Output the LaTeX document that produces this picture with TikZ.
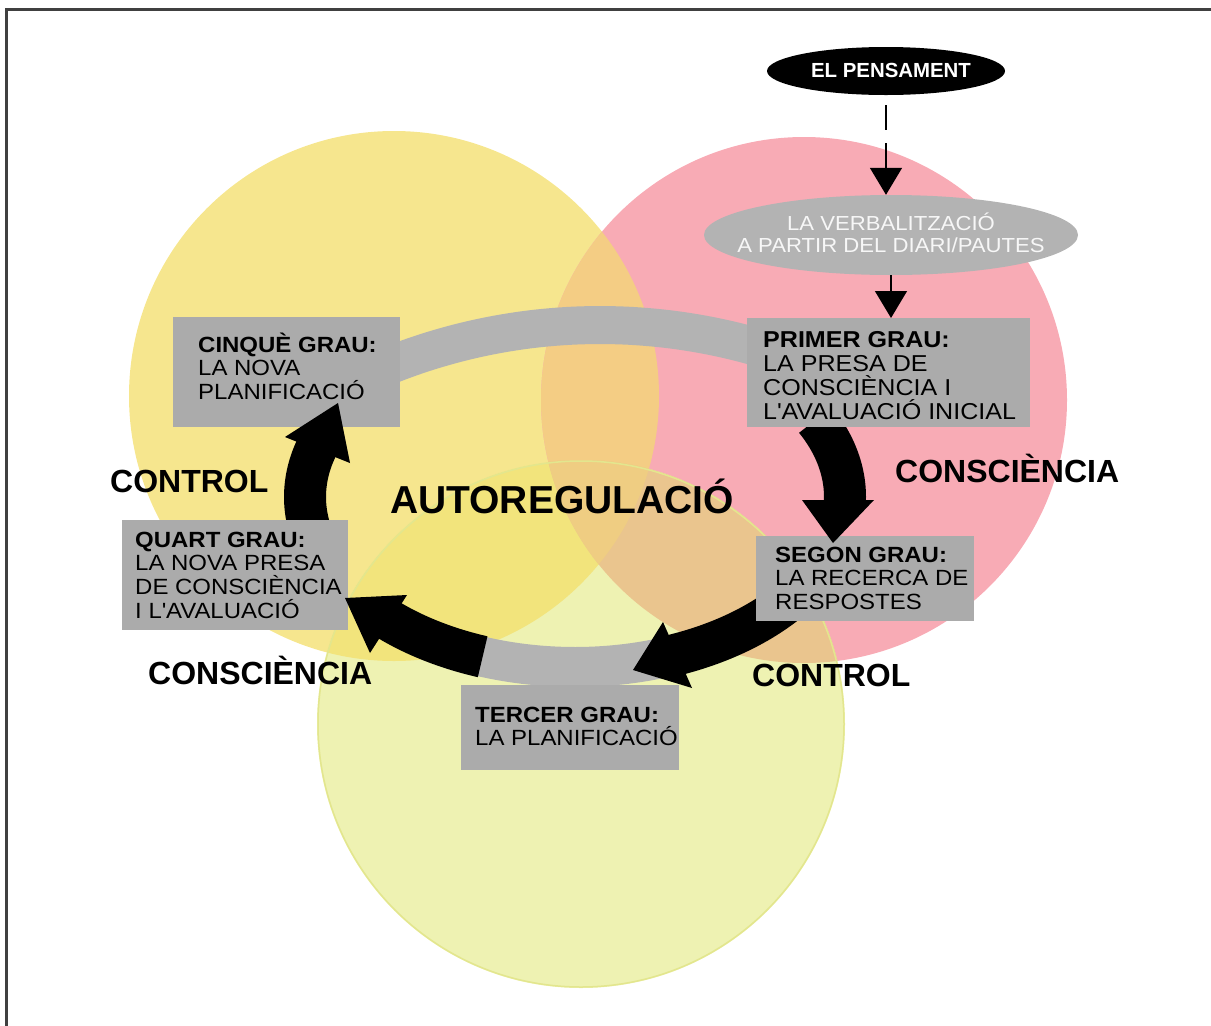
\documentclass[tikz,border=0pt]{standalone}
\usepackage{fontspec}
\setmainfont{Liberation Sans}
\newfontfamily\widefam{Liberation Sans}[FakeStretch=1.09]
\usetikzlibrary{shapes.geometric,arrows.meta,calc}

\definecolor{cYel}{HTML}{F6E68E}
\definecolor{cPink}{HTML}{F8ABB5}
\definecolor{cPale}{HTML}{EEF2B2}
\definecolor{cYelPink}{HTML}{F4CD84}
\definecolor{cYelPale}{HTML}{F2E47C}
\definecolor{cPinkPale}{HTML}{EAC58E}
\definecolor{cAll}{HTML}{EFCD82}
\definecolor{paleEdge}{HTML}{E3E68E}
\definecolor{boxgray}{HTML}{ABABAB}
\definecolor{bandgray}{HTML}{B3B3B3}
\definecolor{framegray}{HTML}{404040}

\begin{document}
\begin{tikzpicture}[x=1pt,y=-1pt,
  stepbox/.style={fill=boxgray, draw=none, inner sep=0pt, anchor=north west},
  % multi-line texts are placed by the baseline of their last line
  steptext/.style={anchor=base west, align=left, inner sep=0pt, text=black,
    font=\widefam\fontsize{22}{23.8}\selectfont},
  biglabel/.style={anchor=base west, inner sep=0pt, text=black,
    font=\bfseries\fontsize{32}{36}\selectfont},
  ringband/.style={line width=42pt, black},
  grayband/.style={bandgray},
  thinarrow/.style={line width=1.5pt, black, -{Triangle[width=32pt,length=27pt]}},
]
\useasboundingbox (0,0) rectangle (1211,1026);

% frame
\draw[framegray, line width=3.3pt] (6.6,1026) -- (6.6,9.6) -- (1211,9.6);

% the three circles and their overlaps
\coordinate (cy) at (394,396);
\coordinate (cp) at (804,400);
\coordinate (cg) at (581,724);
\fill[cYel] (cy) circle[radius=265pt];
\fill[cPink] (cp) circle[radius=263pt];
\fill[cPale] (cg) circle[radius=264pt];
\begin{scope}
  \clip (cy) circle[radius=265pt];
  \fill[cYelPink] (cp) circle[radius=263pt];
\end{scope}
\begin{scope}
  \clip (cy) circle[radius=265pt];
  \fill[cYelPale] (cg) circle[radius=264pt];
\end{scope}
\begin{scope}
  \clip (cp) circle[radius=263pt];
  \fill[cPinkPale] (cg) circle[radius=264pt];
\end{scope}
\begin{scope}
  \clip (cy) circle[radius=265pt];
  \clip (cp) circle[radius=263pt];
  \fill[cAll] (cg) circle[radius=264pt];
\end{scope}
\draw[paleEdge, line width=1.5pt] (cg) circle[radius=263pt];

% top of the chain
\node[ellipse, fill=black, minimum width=238pt, minimum height=48pt, inner sep=0pt] (pens) at (886,71) {};
\node[anchor=base, inner sep=0pt, text=white, font=\bfseries\fontsize{20.4}{24}\selectfont] (pensT) at (891,77) {EL PENSAMENT};
\node[ellipse, fill=bandgray, minimum width=374pt, minimum height=80pt, inner sep=0pt] (verb) at (891,235) {};
\node[anchor=base, align=center, inner sep=0pt, text=white!97!black, font=\widefam\fontsize{20.3}{22}\selectfont] (verbT) at (891,252) {LA VERBALITZACIÓ\\A PARTIR DEL DIARI/PAUTES};

% bands of the cycle
\draw[grayband, line width=38pt] plot[domain=-113:-72, samples=50] ({600+570*cos(\x)},{895+570*sin(\x)});
\draw[grayband, line width=40pt] plot[domain=72:112, samples=30] ({575+270*cos(\x)},{497+170*sin(\x)});
\draw[ringband] plot[domain=-27:3, samples=40] ({575+270*cos(\x)},{497+170*sin(\x)});
\draw[ringband] plot[domain=30:70, samples=40] ({575+270*cos(\x)},{497+170*sin(\x)});
\draw[ringband] plot[domain=110:136, samples=40] ({575+270*cos(\x)},{497+170*sin(\x)});
\draw[ringband] plot[domain=165:198, samples=40] ({575+270*cos(\x)},{497+170*sin(\x)});

% step boxes
\node[stepbox, minimum width=283pt, minimum height=109pt] (primer) at (747,318) {};
\node[stepbox, minimum width=218pt, minimum height=85pt] (segon) at (756,536) {};
\node[stepbox, minimum width=218pt, minimum height=85pt] (tercer) at (461,685) {};
\node[stepbox, minimum width=226pt, minimum height=110pt] (quart) at (122,520) {};
\node[stepbox, minimum width=227pt, minimum height=110pt] (cinque) at (173,317) {};

% arrow heads of the cycle
\coordinate (h1a) at (802,500); \coordinate (h1b) at (874,500); \coordinate (h1t) at (833,543);
\coordinate (h2a) at (663,622); \coordinate (h2b) at (692,688); \coordinate (h2t) at (633,670);
\coordinate (h3a) at (407,595); \coordinate (h3b) at (370,653); \coordinate (h3t) at (345,598);
\coordinate (h4a) at (285,437); \coordinate (h4b) at (350,463); \coordinate (h4t) at (338,403);
\fill[black] (h1a) -- (h1b) -- (h1t) -- cycle;
\fill[black] (h2a) -- (h2b) -- (h2t) -- cycle;
\fill[black] (h3a) -- (h3b) -- (h3t) -- cycle;
\fill[black] (h4a) -- (h4b) -- (h4t) -- cycle;

% thin arrows
\draw[thinarrow, dash pattern=on 25pt off 13pt on 300pt] ([yshift=-10pt]pens.south) -- (pens.south |- verb.north);
\draw[thinarrow] (verb.south) -- (verb.south |- primer.north);

% texts of the steps
\node[steptext, font=\widefam\fontsize{23}{24}\selectfont] (primerT) at (763,419)
  {\textbf{PRIMER GRAU:}\\LA PRESA DE\\CONSCIÈNCIA I\\L\textquotesingle AVALUACIÓ INICIAL};
\node[steptext] (segonT) at (775,609.6) {\textbf{SEGON GRAU:}\\LA RECERCA DE\\RESPOSTES};
\node[steptext] (tercerT) at (475,745.8) {\textbf{TERCER GRAU:}\\LA PLANIFICACIÓ};
\node[steptext] (quartT) at (135,618.4) {\textbf{QUART GRAU:}\\LA NOVA PRESA\\DE CONSCIÈNCIA\\I L\textquotesingle AVALUACIÓ};
\node[steptext] (cinqueT) at (198,399.6) {\textbf{CINQUÈ GRAU:}\\LA NOVA\\PLANIFICACIÓ};

% large labels
\node[biglabel] (ctlL) at (110,492) {CONTROL};
\node[biglabel, font=\bfseries\fontsize{39}{44}\selectfont] (auto) at (390,513) {AUTOREGULACIÓ};
\node[biglabel] (consR) at (895,482) {CONSCIÈNCIA};
\node[biglabel] (ctlB) at (752,686) {CONTROL};
\node[biglabel] (consB) at (148,684) {CONSCIÈNCIA};
\end{tikzpicture}
\end{document}
